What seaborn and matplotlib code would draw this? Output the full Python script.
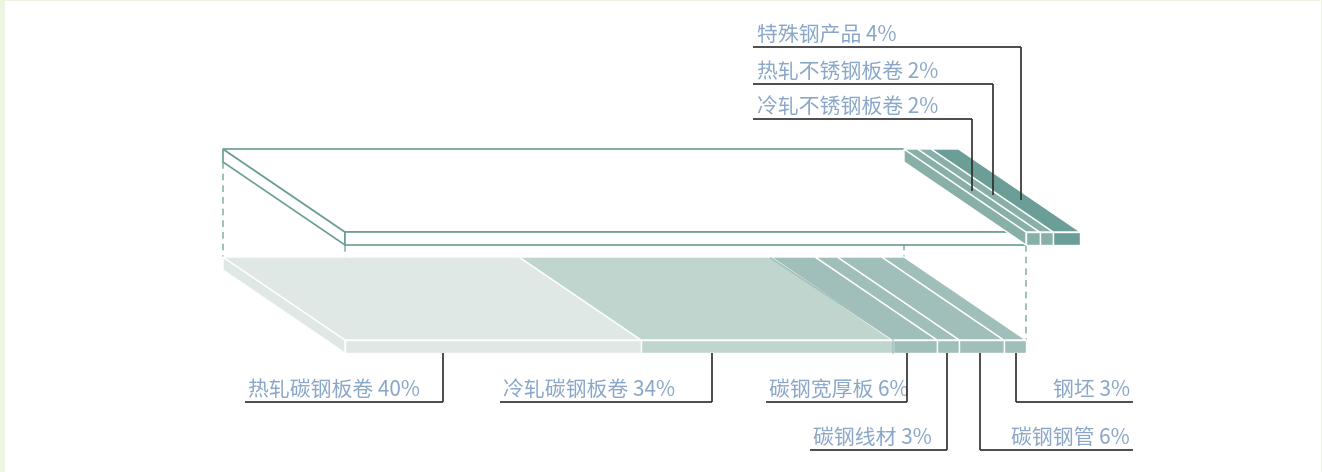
import numpy as np
import matplotlib.pyplot as plt
import seaborn as sns

# lower slab: carbon steel products (left to right)
carbon_names = ["热轧碳钢板卷", "冷轧碳钢板卷", "碳钢宽厚板", "碳钢线材", "碳钢钢管", "钢坯"]
carbon_pct = [40, 34, 6, 3, 6, 3]

# upper slab: stainless / special steel (left to right)
special_names = ["冷轧不锈钢板卷", "热轧不锈钢板卷", "特殊钢产品"]
special_pct = [2, 2, 4]

carbon_colors = ["#dfe8e4", "#c1d5cf", "#a1bfba", "#a1bfba", "#a1bfba", "#a1bfba"]
special_colors = ["#88b0a8", "#88b0a8", "#6a9e96"]
teal = "#6a9e96"
text_color = "#8aa6c8"
line_color = "#2e2e2e"

sns.set_theme(style="white")
plt.rcParams["font.family"] = ["Noto Sans CJK SC", "DejaVu Sans"]

W, H = 1322, 472
X0 = 345                      # pixel of 0% on the front edge
PX_PER_PCT = 681 / 92


def px(x):
    return (x - X0) / PX_PER_PCT


DX = 122 / PX_PER_PCT         # depth offset (in % units)
DY = 83                       # depth offset (pixels)
T = 13                        # slab thickness
UP_Y, LOW_Y = 149, 257        # back edge of each slab

fig = plt.figure(figsize=(W / 100, H / 100), dpi=100)
fig.patch.set_facecolor("#eef4e2")
ax = fig.add_axes([5 / W, 0, 1316 / W, 471 / H])
ax.set_facecolor("white")
ax.set_xlim(px(5), px(1321))
ax.set_ylim(H, 1)
ax.set_xticks([])
ax.set_yticks([])
sns.despine(ax=ax, left=True, bottom=True)

total_c = sum(carbon_pct)

# dashed guides between the two slabs
dash = dict(color="#8fb5b0", lw=1.2, ls=(0, (4, 3)), zorder=1)
ax.plot([-DX, -DX], [UP_Y + T, LOW_Y], **dash)
ax.plot([0, 0], [UP_Y + DY + T, LOW_Y + DY], **dash)
ax.plot([total_c - DX, total_c - DX], [UP_Y + T, LOW_Y], **dash)
ax.plot([total_c, total_c], [UP_Y + DY + T, LOW_Y + DY], **dash)

# ---- lower slab
yb, yf = LOW_Y, LOW_Y + DY
c_right = np.cumsum(carbon_pct)
c_left = c_right - np.array(carbon_pct)
ax.fill([-DX, 0, 0, -DX], [yb, yf, yf + T, yb + T], fc=carbon_colors[0], ec="white", lw=1, zorder=2)
for a, b, c in zip(c_left, c_right, carbon_colors):
    ax.fill([a - DX, b - DX, b, a], [yb, yb, yf, yf], fc=c, ec="white", lw=1, zorder=2)
    ax.fill([a, b, b, a], [yf, yf, yf + T, yf + T], fc=c, ec="white", lw=1, zorder=2)
# no white seam where the colour already changes (34% -> 6%)
a = c_left[2]
ax.plot([a - DX, a], [yb + 1, yf - 1], color=carbon_colors[2], lw=1.2, zorder=2)
ax.plot([a, a], [yf + 1, yf + T], color=carbon_colors[2], lw=1.2, zorder=2)

# ---- upper slab: empty (carbon) part
yb, yf = UP_Y, UP_Y + DY
box = dict(fc="white", ec=teal, lw=1.2, zorder=2)
ax.fill([-DX, 0, 0, -DX], [yb, yf, yf + T, yb + T], **box)
ax.fill([-DX, total_c - DX, total_c, 0], [yb, yb, yf, yf], **box)
ax.fill([0, total_c, total_c, 0], [yf, yf, yf + T, yf + T], **box)

# ---- upper slab: stainless / special part (a bit narrower, as in the source)
S = 0.92
s_right = total_c + S * np.cumsum(special_pct)
s_left = s_right - S * np.array(special_pct)
ax.fill([total_c - DX, total_c, total_c, total_c - DX], [yb, yf, yf + T, yb + T],
        fc=special_colors[0], ec="white", lw=1, zorder=3)
for a, b, c in zip(s_left, s_right, special_colors):
    ax.fill([a - DX, b - DX, b, a], [yb, yb, yf, yf], fc=c, ec="white", lw=1, zorder=3)
    ax.fill([a, b, b, a], [yf, yf, yf + T, yf + T], fc=c, ec="white", lw=1, zorder=3)

# ---- bottom labels
bot_frac = [0.33, 0.28, 0.32, 0.45, 0.46, 0.57]
bot_line_y = [402, 402, 402, 450, 450, 402]
bot_far = [245, 500, 766, 810, 1133, 1133]
lead = dict(color=line_color, lw=1.2, solid_capstyle="butt", zorder=4)
txt = dict(fontsize=15, color=text_color, va="baseline")
for name, p, a, b, f, ly, far in zip(carbon_names, carbon_pct, c_left, c_right,
                                     bot_frac, bot_line_y, bot_far):
    xl = a + f * (b - a)
    xf = px(far)
    ax.plot([xl, xl], [LOW_Y + DY + T, ly], **lead)
    ax.plot([xf, xl], [ly, ly], **lead)
    if xf < xl:
        ax.text(xf + px(X0 + 3), ly - 6, f"{name} {p}%", ha="left", **txt)
    else:
        ax.text(xf - px(X0 + 3), ly - 6, f"{name} {p}%", ha="right", **txt)

# ---- top labels
top_depth = [0.5, 0.56, 0.62]
top_line_y = [119, 84, 47]
top_far = 753
for name, p, a, b, t, ly in zip(special_names, special_pct, s_left, s_right,
                                top_depth, top_line_y):
    xl = (a + b) / 2 - DX * (1 - t)
    y0 = UP_Y + DY * t
    ax.plot([xl, xl], [y0, ly], **lead)
    ax.plot([px(top_far), xl], [ly, ly], **lead)
    ax.text(px(top_far + 4), ly - 6, f"{name} {p}%", ha="left", **txt)

fig.savefig("out.png", dpi=100, facecolor=fig.get_facecolor())
